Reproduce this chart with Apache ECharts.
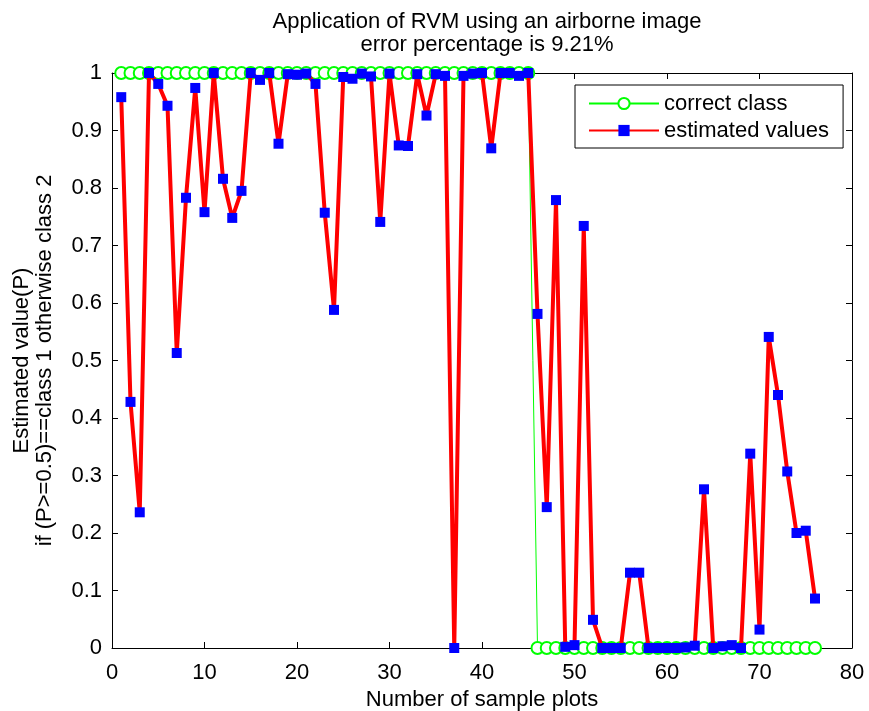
<!DOCTYPE html>
<html>
<head>
<meta charset="utf-8">
<script src="https://cdn.jsdelivr.net/npm/echarts@6/dist/echarts.min.js"></script>
<style>html,body{margin:0;padding:0;background:#fff;}#c{width:869px;height:711px;}</style>
</head>
<body>
<div id="c"></div>
<script>
var samples = [1,2,3,4,5,6,7,8,9,10,11,12,13,14,15,16,17,18,19,20,21,22,23,24,25,26,27,28,29,30,31,32,33,34,35,36,37,38,39,40,41,42,43,44,45,46,47,48,49,50,51,52,53,54,55,56,57,58,59,60,61,62,63,64,65,66,67,68,69,70,71,72,73,74,75,76];
var correctClass = [1,1,1,1,1,1,1,1,1,1,1,1,1,1,1,1,1,1,1,1,1,1,1,1,1,1,1,1,1,1,1,1,1,1,1,1,1,1,1,1,1,1,1,1,1,0,0,0,0,0,0,0,0,0,0,0,0,0,0,0,0,0,0,0,0,0,0,0,0,0,0,0,0,0,0,0];
var estimated = [0.958,0.428,0.236,1.0,0.981,0.943,0.513,0.783,0.974,0.758,1.0,0.816,0.748,0.795,1.0,0.988,1.0,0.877,0.998,0.997,0.999,0.981,0.757,0.588,0.993,0.99,0.999,0.994,0.741,0.999,0.874,0.873,0.998,0.926,0.998,0.995,0.0,0.995,0.999,1.0,0.869,1.0,1.0,0.995,1.0,0.581,0.245,0.779,0.002,0.005,0.734,0.049,0.0,0.0,0.0,0.131,0.131,0.0,0.0,0.0,0.0,0.001,0.004,0.276,0.0,0.003,0.005,0.0,0.338,0.032,0.541,0.44,0.307,0.2,0.204,0.086];
var titleLines = ["Application of RVM using an airborne image", "error percentage is 9.21%"];
var xTitle = "Number of sample plots";
var yTitle = ["Estimated value(P)", "if (P>=0.5)==class 1 otherwise class 2"];
var legendNames = ["correct class", "estimated values"];

function pairs(xs, ys){ return xs.map(function(x,i){ return [x, ys[i]]; }); }

var FONT = "Liberation Sans, Arial, sans-serif";
var FS = 22;
var chart = echarts.init(document.getElementById('c'), null, {renderer:'canvas'});
var axisCommon = {
  axisLine:{show:true, onZero:false, lineStyle:{color:'#000', width:1}},
  axisTick:{show:true, inside:true, length:6, lineStyle:{color:'#000'}},
  splitLine:{show:false}
};
chart.setOption({
  animation:false,
  backgroundColor:'#fff',
  title:{
    text: titleLines.join('\n'),
    left: 482, top: 5, textAlign:'center',
    textStyle:{fontFamily:FONT, fontSize:FS, fontWeight:'normal', color:'#000', lineHeight:23}
  },
  grid:{left:112, top:73, width:740, height:575, show:false, containLabel:false, outerBoundsMode:'none'},
  legend:{
    data: legendNames,
    orient:'vertical',
    left:575, top:85,
    padding:[6,14,5,13],
    itemGap:2,
    itemWidth:70, itemHeight:14,
    backgroundColor:'#fff',
    borderColor:'#000', borderWidth:1,
    textStyle:{fontFamily:FONT, fontSize:FS, color:'#000', lineHeight:25}
  },
  xAxis:[
    Object.assign({type:'value', min:0, max:80, interval:10, position:'bottom',
      name:xTitle, nameLocation:'middle', nameGap:40,
      nameTextStyle:{fontFamily:FONT, fontSize:FS, color:'#000'},
      axisLabel:{fontFamily:FONT, fontSize:FS, color:'#000', margin:14}}, axisCommon),
    Object.assign({type:'value', min:0, max:80, interval:10, position:'top',
      axisLabel:{show:false}}, axisCommon)
  ],
  yAxis:[
    Object.assign({type:'value', min:0, max:1, interval:0.1, position:'left',
      name: yTitle.join('\n'), nameLocation:'middle', nameGap:56, nameRotate:90,
      nameTextStyle:{fontFamily:FONT, fontSize:FS, color:'#000', lineHeight:23},
      axisLabel:{fontFamily:FONT, fontSize:FS, color:'#000', margin:10,
        formatter:function(v){ return String(Math.round(v*10)/10); }}}, axisCommon),
    Object.assign({type:'value', min:0, max:1, interval:0.1, position:'right',
      axisLabel:{show:false}}, axisCommon)
  ],
  series:[
    {
      name:legendNames[0], type:'line', data:pairs(samples, correctClass),
      symbol:'emptyCircle', symbolSize:12, showAllSymbol:true,
      lineStyle:{color:'#00ff00', width:1},
      itemStyle:{color:'#00ff00', borderColor:'#00ff00', borderWidth:1},
      clip:false, z:2
    },
    {
      name:legendNames[1], type:'line', data:pairs(samples, estimated),
      symbol:'rect', symbolSize:10, showAllSymbol:true,
      lineStyle:{color:'#ff0000', width:4},
      itemStyle:{color:'#0000ff', borderColor:'#0000ff', borderWidth:0},
      clip:false, z:3
    }
  ]
});
</script>
</body>
</html>
